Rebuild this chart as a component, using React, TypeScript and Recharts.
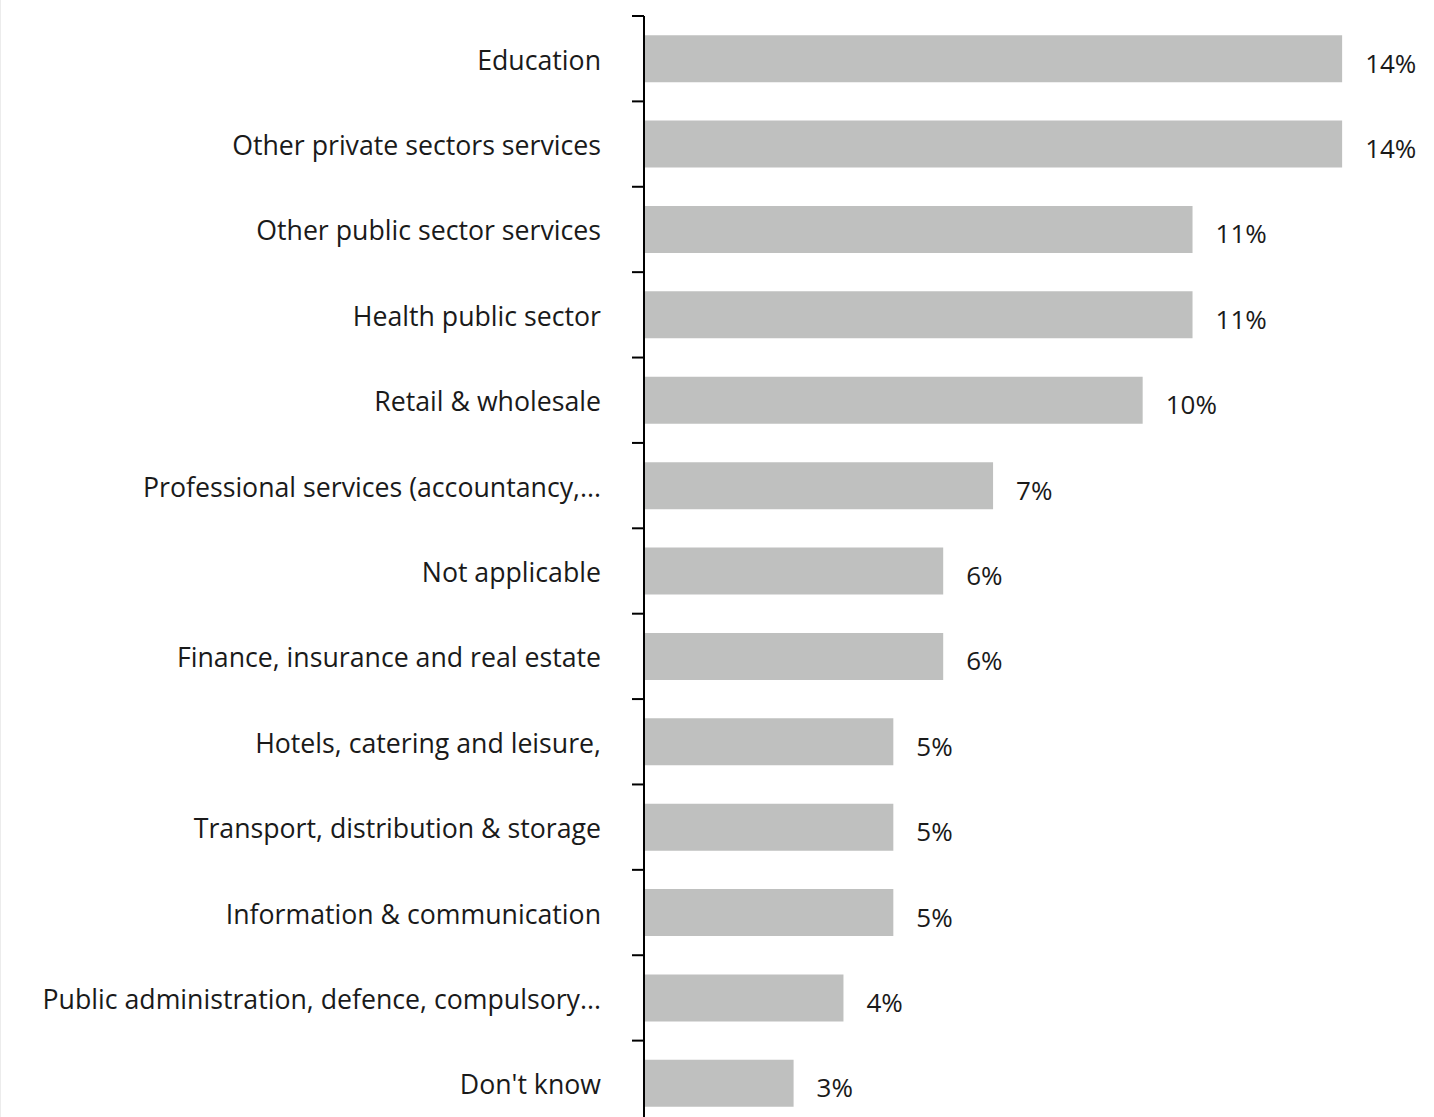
import React from 'react';
import { BarChart, Bar, XAxis, YAxis, LabelList } from 'recharts';

const categories = [
  'Education',
  'Other private sectors services',
  'Other public sector services',
  'Health public sector',
  'Retail & wholesale',
  'Professional services (accountancy,...',
  'Not applicable',
  'Finance, insurance and real estate',
  'Hotels, catering and leisure,',
  'Transport, distribution & storage',
  'Information & communication',
  'Public administration, defence, compulsory...',
  "Don't know",
];
const values = [14, 14, 11, 11, 10, 7, 6, 6, 5, 5, 5, 4, 3];
const valueLabels = ['14%', '14%', '11%', '11%', '10%', '7%', '6%', '6%', '5%', '5%', '5%', '4%', '3%'];

const data = categories.map((c, i) => ({ name: c, value: values[i], label: valueLabels[i] }));

const FONT = '"Open Sans", sans-serif';
const TEXT = '#1a1a1a';

const CategoryTick = (props: any) => {
  const { x, y, payload, index, visibleTicksCount } = props;
  const half = payload && payload.offset ? payload.offset : 42.7;
  const lx1 = x + 31;
  const lx2 = x + 43;
  return (
    <g>
      <line x1={lx1} x2={lx2} y1={y - half} y2={y - half} stroke="#000" strokeWidth={2} />
      {index === visibleTicksCount - 1 ? (
        <line x1={lx1} x2={lx2} y1={y + half} y2={y + half} stroke="#000" strokeWidth={2} />
      ) : null}
      <text x={x} y={y} dy={11} textAnchor="end" fontFamily={FONT} fontSize={26.7} fill={TEXT}>
        {payload.value}
      </text>
    </g>
  );
};

const ValueLabel = (props: any) => {
  const { x, y, width, height, value } = props;
  return (
    <text x={x + width + 23} y={y + height / 2} dy={14} textAnchor="start" fontFamily={FONT} fontSize={26} fill={TEXT}>
      {value}
    </text>
  );
};

export default function App() {
  return (
    <div
      style={{
        position: 'absolute',
        left: 0,
        top: 0,
        width: 1434,
        height: 1117,
        overflow: 'hidden',
        background: '#fff',
      }}
    >
      <div style={{ position: 'absolute', left: 0, top: 0, width: 1, height: 1117, background: '#ececec' }} />
      <BarChart
        width={1434}
        height={1131}
        data={data}
        layout="vertical"
        margin={{ top: 16, right: 42, bottom: 5, left: 0 }}
        barCategoryGap="22.5%"
      >
        <XAxis type="number" domain={[0, 15]} hide />
        <YAxis
          type="category"
          dataKey="name"
          width={644}
          tickSize={12}
          tickMargin={31}
          tickLine={false}
          axisLine={{ stroke: '#000', strokeWidth: 2 }}
          tick={<CategoryTick />}
          interval={0}
        />
        <Bar dataKey="value" fill="#BFC0BF" isAnimationActive={false}>
          <LabelList dataKey="label" content={<ValueLabel />} />
        </Bar>
      </BarChart>
    </div>
  );
}
